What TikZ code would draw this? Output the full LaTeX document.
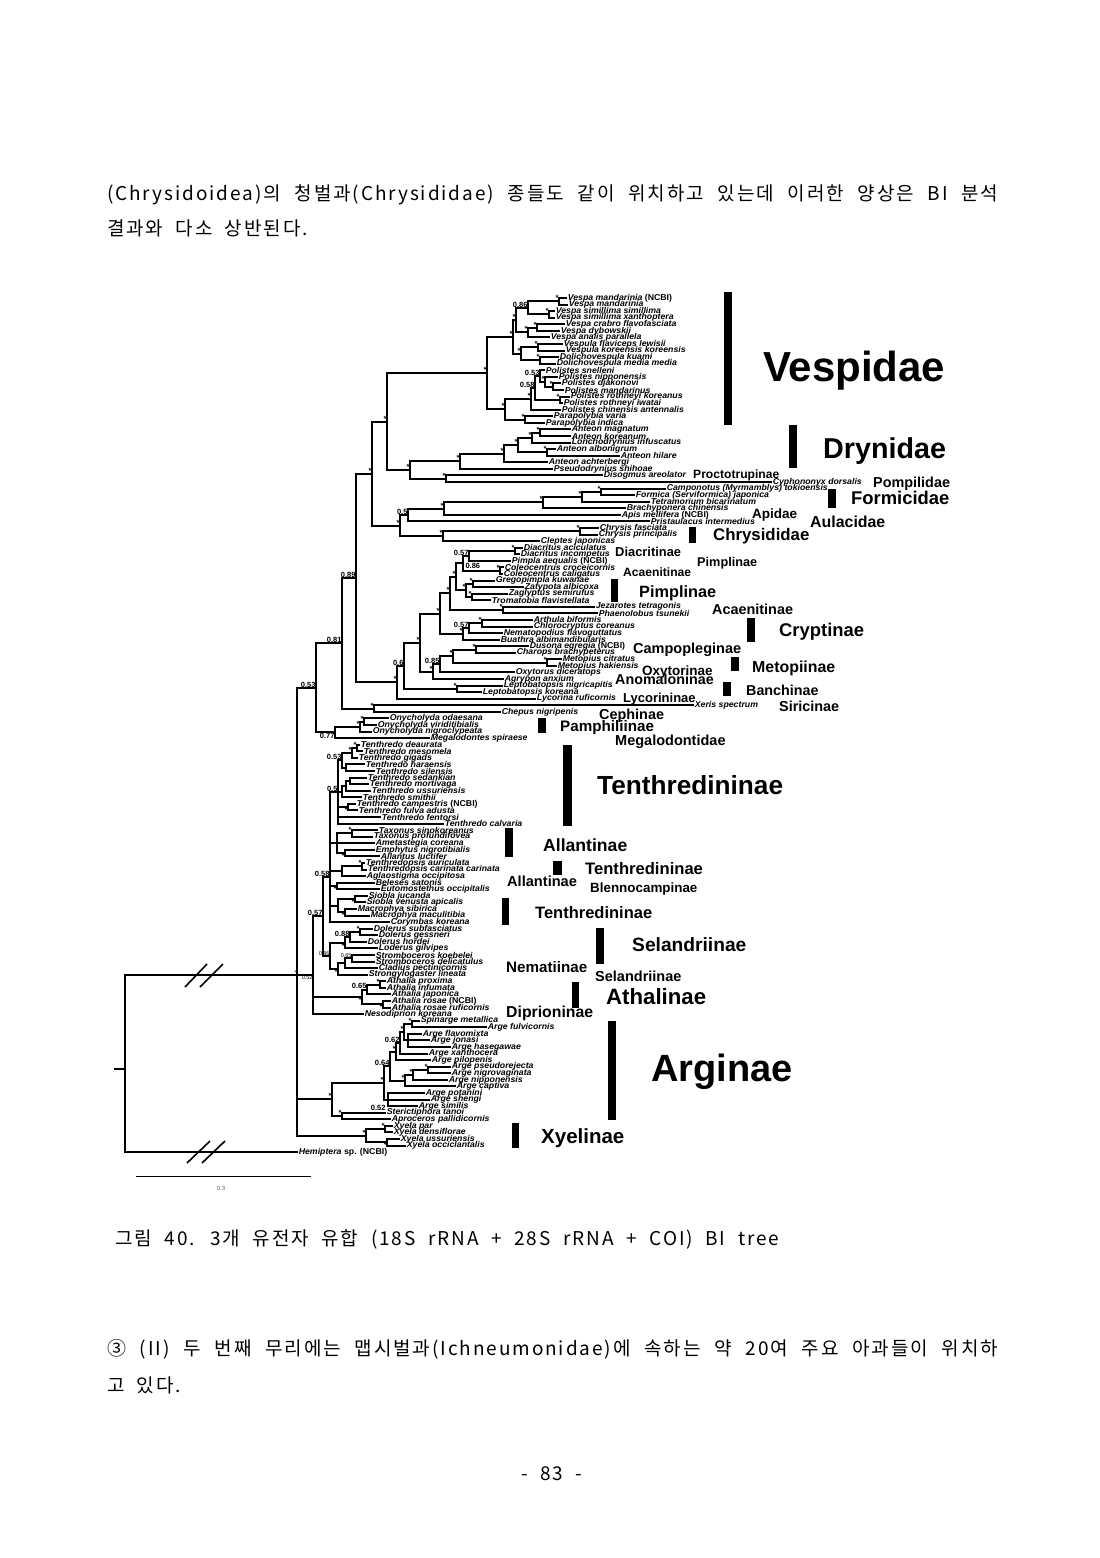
\documentclass[tikz,border=0pt]{standalone}
\usepackage{fontspec}
\setmainfont{Liberation Sans}
\newfontfamily\krfont[LetterSpace=10,WordSpace=2]{Noto Sans CJK KR}
\newfontfamily\taxfont[FakeStretch=1.03]{Liberation Sans}
\usetikzlibrary{positioning}
\tikzset{
  br/.style={line width=2pt},                 % tree branch
  brk/.style={line width=1.6pt},              % // break mark
  tx/.style={anchor=west,inner sep=0.6pt,
    font={\taxfont\fontsize{8.5}{8.5}\selectfont\bfseries\itshape}},
  sup/.style={inner sep=0.3pt,font={\fontsize{7.5}{7.5}\selectfont\bfseries}},
  supS/.style={inner sep=0.3pt,font={\fontsize{5.5}{5.5}\selectfont}},
  pp/.style={label={[sup]above left:#1}},     % posterior prob.
  ppb/.style={label={[sup]below left:#1}},
  pps/.style={label={[supS]above left:#1}},
  ppbs/.style={label={[supS]below left:#1}},
  cl/.style={anchor=base west,inner sep=0pt,font={\fontsize{#1}{#1}\selectfont\bfseries}},
  cbar/.style={fill=black},
  kr/.style={anchor=west,inner sep=0pt,font={\krfont\fontsize{19}{19}\selectfont}},
}
\begin{document}
\begin{tikzpicture}[x=1pt,y=-1pt]
  \fill[white] (0,0) rectangle (1100,1558);
  \useasboundingbox (0,0) rectangle (1100,1558);

  % running text
  \node[kr] (p1) at (107,195) {\makebox[891pt][s]{(Chrysidoidea)의 청벌과(Chrysididae) 종들도 같이 위치하고 있는데 이러한 양상은 BI 분석}};
  \node[kr] (p2) at (107,228) {결과와 다소 상반된다.};

  \begin{scope}[y=-6.57pt,shift={(0pt,-291.43pt)}]
    % ---- tips ----
    \foreach \ti/\tx/\tn in {
      1/567/{Vespa mandarinia \textup{(NCBI)}}, 2/568/{Vespa mandarinia},
      3/555/{Vespa simillima simillima}, 4/555/{Vespa simillima xanthoptera},
      5/565/{Vespa crabro flavofasciata}, 6/560/{Vespa dybowskii},
      7/550/{Vespa analis parallela}, 8/563/{Vespula flaviceps lewisii},
      9/565/{Vespula koreensis koreensis}, 10/559/{Dolichovespula kuami},
      11/556/{Dolichovespula media media}, 12/545/{Polistes snelleni},
      13/558/{Polistes nipponensis}, 14/561/{Polistes djakonovi},
      15/564/{Polistes mandarinus}, 16/570/{Polistes rothneyi koreanus},
      17/563/{Polistes rothneyi iwatai}, 18/561/{Polistes chinensis antennalis},
      19/553/{Parapolybia varia}, 20/545/{Parapolybia indica},
      21/571/{Anteon magnatum}, 22/571/{Anteon koreanum},
      23/571/{Lonchodrynius infuscatus}, 24/556/{Anteon albonigrum},
      25/620/{Anteon hilare}, 26/548/{Anteon achterbergi},
      27/553/{Pseudodrynius shihoae}, 28/603/{Disogmus areolator},
      29/772/{Cyphononyx dorsalis}, 30/666/{Camponotus (Myrmamblys) tokioensis},
      31/635/{Formica (Serviformica) japonica}, 32/650/{Tetramorium bicarinatum},
      33/626/{Brachyponera chinensis}, 34/621/{Apis mellifera \textup{(NCBI)}},
      35/650/{Pristaulacus intermedius}, 36/599/{Chrysis fasciata},
      37/598/{Chrysis principalis}, 38/540/{Cleptes japonicas},
      39/523/{Diacritus aciculatus}, 40/520/{Diacritus incompetus},
      41/511/{Pimpla aequalis \textup{(NCBI)}}, 42/504/{Coleocentrus croceicornis},
      43/503/{Coleocentrus caligatus}, 44/495/{Gregopimpla kuwanae},
      45/524/{Zatypota albicoxa}, 46/508/{Zaglyptus semirufus},
      47/491/{Tromatobia flavistellata}, 48/595/{Jezarotes tetragonis},
      49/598/{Phaenolobus tsunekii}, 50/533/{Arthula biformis},
      51/533/{Chlorocryptus coreanus}, 52/503/{Nematopodius flavoguttatus},
      53/500/{Buathra albimandibularis}, 54/529/{Dusona egregia \textup{(NCBI)}},
      55/516/{Charops brachypeterus}, 56/562/{Metopius citratus},
      57/557/{Metopius hakiensis}, 58/515/{Oxytorus diceratops},
      59/504/{Agrypon anxium}, 60/503/{Leptobatopsis nigricapitis},
      61/482/{Leptobatopsis koreana}, 62/536/{Lycorina ruficornis},
      63/694/{Xeris spectrum}, 64/501/{Chepus nigripenis},
      65/389/{Onycholyda odaesana}, 66/377/{Onycholyda viriditibialis},
      67/372/{Onycholyda nigroclypeata}, 68/430/{Megalodontes spiraese},
      69/360/{Tenthredo deaurata}, 70/363/{Tenthredo mesomela},
      71/358/{Tenthredo gigads}, 72/365/{Tenthredo haraensis},
      73/375/{Tenthredo silensis}, 74/367/{Tenthredo sedankian},
      75/369/{Tenthredo mortivaga}, 76/371/{Tenthredo ussuriensis},
      77/362/{Tenthredo smithii}, 78/356/{Tenthredo campestris \textup{(NCBI)}},
      79/358/{Tenthredo fulva adusta}, 80/381/{Tenthredo fentorsi},
      81/444/{Tenthredo calvaria}, 82/378/{Taxonus sinokoreanus},
      83/373/{Taxonus profundifovea}, 84/375/{Ametastegia coreana},
      85/375/{Emphytus nigrotibialis}, 86/380/{Allantus luctifer},
      87/365/{Tenthredopsis auriculata}, 88/367/{Tenthredopsis carinata carinata},
      89/366/{Aglaostigma occipitosa}, 90/375/{Beleses satonis},
      91/380/{Eutomostethus occipitalis}, 92/368/{Siobla jucanda},
      93/366/{Siobla venusta apicalis}, 94/357/{Macrophya sibirica},
      95/370/{Macrophya maculitibia}, 96/390/{Corymbas koreana},
      97/373/{Dolerus subfasciatus}, 98/378/{Dolerus gessneri},
      99/367/{Dolerus hordei}, 100/378/{Loderus gilvipes},
      101/375/{Stromboceros koebelei}, 102/375/{Stromboceros delicatulus},
      103/378/{Cladius pectinicornis}, 104/368/{Strongylogaster lineata},
      105/386/{Athalia proxima}, 106/386/{Athalia infumata},
      107/391/{Athalia japonica}, 108/391/{Athalia rosae \textup{(NCBI)}},
      109/391/{Athalia rosae ruficornis}, 110/364/{Nesodiprion koreana},
      111/420/{Spinarge metallica}, 112/487/{Arge fulvicornis},
      113/422/{Arge flavomixta}, 114/430/{Arge jonasi},
      115/451/{Arge hasegawae}, 116/428/{Arge xanthocera},
      117/431/{Arge pilopenis}, 118/451/{Arge pseudorejecta},
      119/451/{Arge nigrovaginata}, 120/448/{Arge nipponensis},
      121/456/{Arge captiva}, 122/425/{Arge potanini},
      123/430/{Arge shengi}, 124/418/{Arge similis},
      125/386/{Sterictiphora tanoi}, 126/391/{Aproceros pallidicornis},
      127/393/{Xyela par}, 128/393/{Xyela densiflorae},
      129/400/{Xyela ussuriensis}, 130/406/{Xyela occiclantalis},
      131/298/{Hemiptera \textup{sp. (NCBI)}}}
      \node[tx] (t\ti) at (\tx,\ti) {\tn};

    % ---- internal nodes ----
    % Vespidae
    \coordinate[pp=*] (nVm) at (559,1.5);
    \coordinate[pp=*] (nVs) at (549,3.5);
    \coordinate[pp=0.86] (n086V) at (528,2.5);
    \coordinate[pp=*] (nVc) at (537,5.5);
    \coordinate[pp=*] (nVca) at (528,6.25);
    \coordinate[pp=*] (nVe) at (516,4.375);
    \coordinate[pp=*] (nVu) at (538,8.5);
    \coordinate[pp=*] (nDo) at (540,10.5);
    \coordinate[pp=*] (nVD) at (521,9.5);
    \coordinate[pp=*] (nVesp) at (513,6.94);
    \coordinate[pp=*] (nPd) at (553,14.5);
    \coordinate[pp=*] (nPn) at (545,13.75);
    \coordinate[pp=0.53] (n053P) at (540,12.875);
    \coordinate[pp=*] (nPr) at (560,16.5);
    \coordinate[pp=0.58] (n058P) at (535,14.69);
    \coordinate[pp=*] (nPol) at (531,16.34);
    \coordinate[pp=*] (nPara) at (525,19.5);
    \coordinate[pp=*] (nPoli) at (505,17.92);
    \coordinate[pp=*] (nVespidae) at (487,12.43);
    % Dryinidae and allies
    \coordinate[pp=*] (nAmk) at (540,21.5);
    \coordinate[pp=*] (nAmkl) at (532,22.25);
    \coordinate[pp=*] (nAah) at (547,24.5);
    \coordinate[pp=*] (nX518) at (518,23.375);
    \coordinate[pp=*] (nX504) at (504,24.69);
    \coordinate[pp=*] (nDry) at (460,25.84);
    \coordinate[pp=*] (nDC) at (446,28.5);
    \coordinate[pp=*] (nDP) at (410,27.17);
    \coordinate[pp=*] (nA1) at (387,19.8);
    % ants, bees, Aulacidae, Chrysididae
    \coordinate[pp=*] (nCF) at (601,30.5);
    \coordinate[pp=*] (nCFT) at (582,31.25);
    \coordinate[pp=*] (nFor) at (543,32.125);
    \coordinate[pp=*] (nAcu) at (444,33.06);
    \coordinate[pp=0.5] (n05A) at (408,34.03);
    \coordinate[pp=*] (nCh) at (580,36.5);
    \coordinate[pp=*] (nChr) at (443,37.25);
    \coordinate[pp=*] (nX400) at (400,35.64);
    \coordinate[pp=*] (nA2) at (372,27.72);
    % Ichneumonidae
    \coordinate[pp=*] (nDia) at (515,39.5);
    \coordinate[pp=0.57] (n057I) at (469,40.25);
    \coordinate[pp=*] (nCol) at (500,42.5);
    \coordinate (nX463) at (463,41.375);
    \coordinate[pp=*] (nGZ) at (473,44.5);
    \coordinate[pp=*] (nZT) at (472,46.5);
    \coordinate[pp=*] (nX466) at (466,45.5);
    \coordinate[pp=*] (nPimp) at (456,43.44);
    \coordinate[pp=*] (nJez) at (503,48.5);
    \coordinate[pp=*] (nX450) at (450,45.97);
    \coordinate[pp=*] (nAC) at (482,50.5);
    \coordinate[pp=0.57] (n057C) at (469,51.25);
    \coordinate[pp=*] (nCry) at (463,52.125);
    \coordinate[pp=*] (nX440) at (440,49.05);
    \coordinate[pp=*] (nDCh) at (476,54.5);
    \coordinate[pp=*] (nMet) at (547,56.5);
    \coordinate[pp=*] (nX453) at (453,55.5);
    \coordinate[pp=0.85] (n085) at (440,56.75);
    \coordinate[pp=*] (nX432) at (433,57.875);
    \coordinate[pp=*] (nX420) at (420,53.46);
    \coordinate[pp=*] (nLep) at (457,60.5);
    \coordinate[pp=0.6] (n06) at (404,56.98);
    \coordinate[pp=*] (nIch) at (397,59.49);
    \coordinate[pp=0.89] (nA3) at (356,43.6);
    \coordinate[pp=*] (nXC) at (374,63.5);
    \coordinate[pp=0.81] (n089) at (342,53.55);
    \coordinate[pp=*] (nOny1) at (364,65.5);
    \coordinate[pp=*] (nOny) at (360,66.25);
    \coordinate[ppb=0.77] (n077) at (335,67.125);
    \coordinate[pp=0.53] (n081) at (316,60.3);
    % Tenthredinidae
    \coordinate[pp=*] (nTdm) at (357,69.5);
    \coordinate[pp=*] (nTg) at (352,70.25);
    \coordinate (nThs) at (346,72.5);
    \coordinate[pp=0.53] (n053T) at (342,71.375);
    \coordinate (nTsm1) at (350,74.5);
    \coordinate (nTmu) at (346,75.25);
    \coordinate (nTsmi) at (342,76.125);
    \coordinate[ppb=*] (nTcf) at (348,78.5);
    \coordinate[pp=0.5] (nTx) at (338,76.19);
    \coordinate[pp=*] (nTax) at (352,82.5);
    \coordinate[ppb=*] (nEA) at (345,85.5);
    \coordinate (nAll) at (337,84);
    \coordinate[pp=*] (nTp) at (362,87.5);
    \coordinate (nTA) at (342,88.25);
    \coordinate[ppb=*] (nBE) at (337,90.5);
    \coordinate[ppb=*] (nSio) at (355,92.5);
    \coordinate[ppb=*] (nMac) at (345,94.5);
    \coordinate (nSM) at (338,93.5);
    \coordinate[pp=0.58] (n058) at (330,89.1);
    \coordinate[pp=*] (nDsg) at (360,97.5);
    \coordinate[pp=0.88] (n088) at (350,98.25);
    \coordinate[ppb=*] (nDL) at (345,99.125);
    \coordinate[pps=0.65] (nStr) at (352,101.5);
    \coordinate (nSC) at (345,102.25);
    \coordinate[ppb=*] (nSCS) at (338,103.125);
    \coordinate[pps=0.86] (n086T) at (330,101.125);
    \coordinate[pp=0.57] (n057T) at (323,95.1);
    \coordinate[pp=*] (nApi) at (380,105.5);
    \coordinate[pp=0.65] (n065) at (367,106.25);
    \coordinate[ppb=*] (nArr) at (383,108.5);
    \coordinate[ppb=*] (nAth) at (362,107.375);
    \coordinate[ppbs=0.52] (n052) at (313,104.05);
    % Argidae, Xyelidae
    \coordinate[pp=*] (nAsp) at (412,111.5);
    \coordinate (nAfjh) at (408,114);
    \coordinate[pp=*] (nX404) at (404,112.75);
    \coordinate[pp=0.62] (n062) at (400,114.4);
    \coordinate[pp=*] (nX398) at (396,115.7);
    \coordinate[pp=*] (nPs) at (428,118.5);
    \coordinate[pp=*] (nX413) at (413,119.25);
    \coordinate[pp=*] (nX405) at (405,120.125);
    \coordinate[pp=0.64] (n064) at (390,117.9);
    \coordinate (nPSS) at (388,123);
    \coordinate[pp=*] (nX386) at (384,120.45);
    \coordinate[pp=*] (nStA) at (342,125.5);
    \coordinate[pp=*] (nArg) at (332,122.98);
    \coordinate[pp=*] (nXpd) at (385,127.5);
    \coordinate[ppb=*] (nXus) at (387,129.5);
    \coordinate[pp=*] (nXy) at (366,128.5);
    \coordinate[pps=*] (nIng) at (297,104.05);
    \coordinate (root) at (125,118.3);
    \coordinate (stub) at (114,118.3);
    \node[sup,anchor=south west] (s086b) at (465,42.3) {0.86};
    \node[sup,anchor=south east] (s052b) at (386,124.7) {0.52};

    % ---- branches ----
    \foreach \pa/\cd in {
      nVm/t1.west, nVm/t2.west, nVs/t3.west, nVs/t4.west,
      n086V/nVm, n086V/nVs, nVc/t5.west, nVc/t6.west,
      nVca/nVc, nVca/t7.west, nVe/n086V, nVe/nVca,
      nVu/t8.west, nVu/t9.west, nDo/t10.west, nDo/t11.west,
      nVD/nVu, nVD/nDo, nVesp/nVe, nVesp/nVD,
      nPd/t14.west, nPd/t15.west, nPn/t13.west, nPn/nPd,
      n053P/t12.west, n053P/nPn, nPr/t16.west, nPr/t17.west,
      n058P/n053P, n058P/nPr, nPol/n058P, nPol/t18.west,
      nPara/t19.west, nPara/t20.west, nPoli/nPol, nPoli/nPara,
      nVespidae/nVesp, nVespidae/nPoli,
      nAmk/t21.west, nAmk/t22.west, nAmkl/nAmk, nAmkl/t23.west,
      nAah/t24.west, nAah/t25.west, nX518/nAmkl, nX518/nAah,
      nX504/nX518, nX504/t26.west, nDry/nX504, nDry/t27.west,
      nDC/t28.west, nDC/t29.west, nDP/nDry, nDP/nDC,
      nA1/nVespidae, nA1/nDP,
      nCF/t30.west, nCF/t31.west, nCFT/nCF, nCFT/t32.west,
      nFor/nCFT, nFor/t33.west, nAcu/nFor, nAcu/t34.west,
      n05A/nAcu, n05A/t35.west, nCh/t36.west, nCh/t37.west,
      nChr/nCh, nChr/t38.west, nX400/n05A, nX400/nChr,
      nA2/nA1, nA2/nX400,
      nDia/t39.west, nDia/t40.west, n057I/nDia, n057I/t41.west,
      nCol/t42.west, nCol/t43.west, nX463/n057I, nX463/nCol,
      nGZ/t44.west, nGZ/t45.west, nZT/t46.west, nZT/t47.west,
      nX466/nGZ, nX466/nZT, nPimp/nX463, nPimp/nX466,
      nJez/t48.west, nJez/t49.west, nX450/nPimp, nX450/nJez,
      nAC/t50.west, nAC/t51.west, n057C/nAC, n057C/t52.west,
      nCry/n057C, nCry/t53.west, nX440/nX450, nX440/nCry,
      nDCh/t54.west, nDCh/t55.west, nMet/t56.west, nMet/t57.west,
      nX453/nDCh, nX453/nMet, n085/nX453, n085/t58.west,
      nX432/n085, nX432/t59.west, nX420/nX440, nX420/nX432,
      nLep/t60.west, nLep/t61.west, n06/nX420, n06/nLep,
      nIch/n06, nIch/t62.west, nA3/nA2, nA3/nIch,
      nXC/t63.west, nXC/t64.west, n089/nA3, n089/nXC,
      nOny1/t65.west, nOny1/t66.west, nOny/nOny1, nOny/t67.west,
      n077/nOny, n077/t68.west, n081/n089, n081/n077,
      nTdm/t69.west, nTdm/t70.west, nTg/nTdm, nTg/t71.west,
      nThs/t72.west, nThs/t73.west, n053T/nTg, n053T/nThs,
      nTsm1/t74.west, nTsm1/t75.west, nTmu/nTsm1, nTmu/t76.west,
      nTsmi/nTmu, nTsmi/t77.west, nTcf/t78.west, nTcf/t79.west,
      nTx/n053T, nTx/nTsmi, nTx/nTcf, nTx/t80.west, nTx/t81.west,
      nTax/t82.west, nTax/t83.west, nEA/t85.west, nEA/t86.west,
      nAll/nTax, nAll/t84.west, nAll/nEA,
      nTp/t87.west, nTp/t88.west, nTA/nTp, nTA/t89.west,
      nBE/t90.west, nBE/t91.west, nSio/t92.west, nSio/t93.west,
      nMac/t94.west, nMac/t95.west, nSM/nSio, nSM/nMac,
      n058/nTx, n058/nAll, n058/nTA, n058/nBE, n058/nSM, n058/t96.west,
      nDsg/t97.west, nDsg/t98.west, n088/nDsg, n088/t99.west,
      nDL/n088, nDL/t100.west, nStr/t101.west, nStr/t102.west,
      nSC/nStr, nSC/t103.west, nSCS/nSC, nSCS/t104.west,
      n086T/nDL, n086T/nSCS, n057T/n058, n057T/n086T,
      nApi/t105.west, nApi/t106.west, n065/nApi, n065/t107.west,
      nArr/t108.west, nArr/t109.west, nAth/n065, nAth/nArr,
      n052/n057T, n052/nAth, n052/t110.west,
      nAsp/t111.west, nAsp/t112.west,
      nAfjh/t113.west, nAfjh/t114.west, nAfjh/t115.west,
      nX404/nAsp, nX404/nAfjh, n062/nX404, n062/t116.west,
      nX398/n062, nX398/t117.west, nPs/t118.west, nPs/t119.west,
      nX413/nPs, nX413/t120.west, nX405/nX413, nX405/t121.west,
      n064/nX398, n064/nX405,
      nPSS/t122.west, nPSS/t123.west, nPSS/t124.west,
      nX386/n064, nX386/nPSS, nStA/t125.west, nStA/t126.west,
      nArg/nX386, nArg/nStA, nXpd/t127.west, nXpd/t128.west,
      nXus/t129.west, nXus/t130.west, nXy/nXpd, nXy/nXus,
      nIng/n081, nIng/n052, nIng/nArg, nIng/nXy,
      root/nIng, root/t131.west}
      \draw[br] (\pa) |- (\cd);
    \draw[br] (root) -- (stub);
  \end{scope}

  % long-branch breaks
  \draw[brk] (185,987) -- (207,964);
  \draw[brk] (200,987) -- (223,964);
  \draw[brk] (187,1163) -- (210,1141);
  \draw[brk] (202,1163) -- (225,1141);
  % scale bar
  \coordinate (sb1) at (136,1176);
  \coordinate (sb2) at (311,1176);
  \draw[line width=0.6pt] (sb1) -- (sb2);
  \node[font=\fontsize{6}{6}\selectfont,text=black!65] (sbl) at (221,1188) {0.3};

  % clade bars
  \fill[cbar] (724,292) rectangle (732,425);
  \fill[cbar] (789,425) rectangle (797,468);
  \fill[cbar] (828,489) rectangle (836,508);
  \fill[cbar] (689,527) rectangle (696,543);
  \fill[cbar] (611,579) rectangle (618,602);
  \fill[cbar] (747,618) rectangle (755,642);
  \fill[cbar] (731,657) rectangle (739,671);
  \fill[cbar] (723,682) rectangle (731,696);
  \fill[cbar] (538,718) rectangle (546,733);
  \fill[cbar] (563,745) rectangle (572,826);
  \fill[cbar] (505,828) rectangle (513,857);
  \fill[cbar] (553,861) rectangle (562,875);
  \fill[cbar] (502,898) rectangle (509,925);
  \fill[cbar] (596,928) rectangle (604,964);
  \fill[cbar] (572,982) rectangle (579,1008);
  \fill[cbar] (608,1021) rectangle (616,1120);
  \fill[cbar] (512,1123) rectangle (519,1148);

  % clade names
  \node[cl=42] (lVes) at (763,381) {Vespidae};
  \node[cl=28.7] (lDry) at (823,458.3) {Drynidae};
  \node[cl=12.1] (lPro) at (693,478.4) {Proctotrupinae};
  \node[cl=14.4] (lPom) at (873,487.2) {Pompilidae};
  \node[cl=18.4] (lFor) at (851,504.6) {Formicidae};
  \node[cl=13.5] (lApi) at (752,518.9) {Apidae};
  \node[cl=15.9] (lAul) at (810,527.7) {Aulacidae};
  \node[cl=16.8] (lChr) at (713,540) {Chrysididae};
  \node[cl=12.9] (lDia) at (615,556.6) {Diacritinae};
  \node[cl=12.7] (lPi1) at (697,566.6) {Pimplinae};
  \node[cl=12.1] (lAc1) at (623,576.4) {Acaenitinae};
  \node[cl=16.3] (lPi2) at (639,597.9) {Pimplinae};
  \node[cl=14.4] (lAc2) at (712,614.2) {Acaenitinae};
  \node[cl=18.4] (lCry) at (779,636.6) {Cryptinae};
  \node[cl=14.5] (lCam) at (633,653.2) {Campopleginae};
  \node[cl=15.9] (lMet) at (752,672.7) {Metopiinae};
  \node[cl=13.5] (lOxy) at (642,675.9) {Oxytorinae};
  \node[cl=14.3] (lAno) at (615,684.1) {Anomaloninae};
  \node[cl=14.3] (lBan) at (746,695.1) {Banchinae};
  \node[cl=13] (lLyc) at (623,702.7) {Lycorininae};
  \node[cl=14.4] (lSir) at (779,711.2) {Siricinae};
  \node[cl=14.4] (lCep) at (599,719.2) {Cephinae};
  \node[cl=15.2] (lPam) at (560,731.5) {Pamphiliinae};
  \node[cl=14.5] (lMeg) at (615,745.2) {Megalodontidae};
  \node[cl=26.2] (lTe1) at (597,794.4) {Tenthredininae};
  \node[cl=17.6] (lAl1) at (543,851.3) {Allantinae};
  \node[cl=16.6] (lTe2) at (585,874) {Tenthredininae};
  \node[cl=14.6] (lAl2) at (507,886.3) {Allantinae};
  \node[cl=13.4] (lBle) at (590,892.8) {Blennocampinae};
  \node[cl=16.5] (lTe3) at (535,918.9) {Tenthredininae};
  \node[cl=19.2] (lSe1) at (632,951.9) {Selandriinae};
  \node[cl=15.2] (lNem) at (506,972.5) {Nematiinae};
  \node[cl=14.5] (lSe2) at (595,981.2) {Selandriinae};
  \node[cl=22.2] (lAth) at (606,1004) {Athalinae};
  \node[cl=15.8] (lDip) at (506,1017.7) {Diprioninae};
  \node[cl=38] (lArg) at (651,1081.7) {Arginae};
  \node[cl=20.5] (lXye) at (541,1143.4) {Xyelinae};

  % caption and text below
  \node[kr] (cap) at (115,1239) {\makebox[664pt][s]{그림 40. 3개 유전자 유합 (18S rRNA + 28S rRNA + COI) BI tree}};
  \node[kr] (p3) at (107,1349) {\makebox[891pt][s]{③ (II) 두 번째 무리에는 맵시벌과(Ichneumonidae)에 속하는 약 20여 주요 아과들이 위치하}};
  \node[kr] (p4) at (107,1385) {고 있다.};
  \node[kr,anchor=center] (pg) at (552,1474) {- 83 -};
\end{tikzpicture}
\end{document}
